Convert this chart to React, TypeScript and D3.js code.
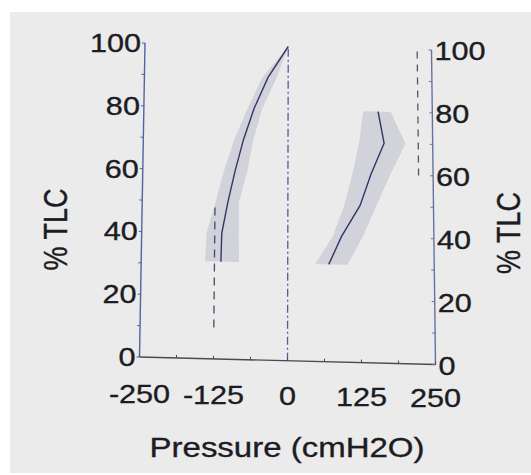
import React from "react";
import * as d3 from "d3";

// ---- data ----
const xTicksMajor = [-250, -125, 0, 125, 250];
const xTicksMinor = [-250, -187.5, -125, -62.5, 0, 62.5, 125, 187.5, 250];
const yTicksMajor = [0, 20, 40, 60, 80, 100];
const yTicksMinor = [0, 10, 20, 30, 40, 50, 60, 70, 80, 90, 100];

// expiratory (negative pressure) curve
const expY = [31, 40, 50, 60, 70, 80, 90, 100];
const expMean = [-114, -113, -103, -91, -77, -59, -35, 0];
const expLo = [-141, -139, -124, -110, -93, -70, -45, 0];
const expHi = [-83, -84, -84, -70, -60, -45, -20, 0];

// inspiratory (positive pressure) curve
const inspY = [31, 40, 50, 60, 70, 80];
const inspMean = [70, 92, 124, 143, 166, 156];
const inspLo = [47, 77, 97, 111, 123, 130];
const inspHi = [102, 128, 152, 176, 203, 178];

// reference dashed lines: [x, yFrom, yTo]
const refLeft = [-125, 10, 50];
const refRight = [225, 60, 100];

const W = 531;
const H = 475;
const STRETCH = 1.2;

export default function App() {
  const xs = d3.scaleLinear().domain([-250, 250]).range([0, 1]);
  const ys = d3.scaleLinear().domain([0, 100]).range([1, 0]);
  // photographed plot frame corners (slight keystone)
  const TL = [145, 43];
  const TR = [431.5, 50];
  const BL = [139.5, 357];
  const BR = [435.5, 364.5];
  const P = (x: number, y: number): [number, number] => {
    const u = xs(x);
    const v = ys(y);
    const tx = TL[0] + (TR[0] - TL[0]) * u;
    const ty = TL[1] + (TR[1] - TL[1]) * u;
    const bx = BL[0] + (BR[0] - BL[0]) * u;
    const by = BL[1] + (BR[1] - BL[1]) * u;
    return [tx + (bx - tx) * v, ty + (by - ty) * v];
  };
  const line = d3
    .line<[number, number]>()
    .x((d) => P(d[0], d[1])[0])
    .y((d) => P(d[0], d[1])[1]);

  const bandPath = (ysArr: number[], lo: number[], hi: number[]) => {
    const pts: [number, number][] = [];
    ysArr.forEach((y, i) => pts.push([lo[i], y]));
    for (let i = ysArr.length - 1; i >= 0; i--) pts.push([hi[i], ysArr[i]]);
    return line(pts) + "Z";
  };
  const meanPath = (ysArr: number[], m: number[]) =>
    line(ysArr.map((y, i) => [m[i], y] as [number, number]));

  const font = "'Liberation Sans', Arial, Helvetica, sans-serif";
  const txtColor = "#1c1c22";
  const axisBlue = "#5563a3";
  const textProps = {
    fontFamily: font,
    fill: txtColor,
    stroke: txtColor,
    strokeWidth: 0.35,
  };

  return (
    <svg
      width={W}
      height={H}
      style={{ position: "absolute", left: 0, top: 0, display: "block" }}
    >
      <rect x={0} y={0} width={W} height={H} fill="#ffffff" />
      <rect x={10} y={12} width={W - 10} height={H - 14} fill="#ebebeb" />

      {/* bands */}
      <path d={bandPath(expY, expLo, expHi)} fill="#d2d2da" />
      <path d={bandPath(inspY, inspLo, inspHi)} fill="#d2d2da" />

      {/* zero line */}
      <path
        d={line([
          [0, 0],
          [0, 100],
        ])!}
        stroke="#4e5c9c"
        strokeWidth={1.3}
        strokeDasharray="8,3,2,3"
        fill="none"
      />
      {/* reference dashed lines */}
      <path
        d={line([
          [refLeft[0], refLeft[1]],
          [refLeft[0], refLeft[2]],
        ])!}
        stroke="#464a72"
        strokeWidth={1.3}
        strokeDasharray="8,6"
        fill="none"
      />
      <path
        d={line([
          [refRight[0], refRight[1]],
          [refRight[0], refRight[2]],
        ])!}
        stroke="#55555f"
        strokeWidth={1.3}
        strokeDasharray="7,6"
        fill="none"
      />

      {/* mean curves */}
      <path
        d={meanPath(expY, expMean)!}
        stroke="#34346a"
        strokeWidth={1.4}
        fill="none"
      />
      <path
        d={meanPath(inspY, inspMean)!}
        stroke="#34346a"
        strokeWidth={1.4}
        fill="none"
      />

      {/* axes */}
      <path
        d={line([
          [-250, 0],
          [-250, 100],
        ])!}
        stroke={axisBlue}
        strokeWidth={1.4}
        fill="none"
      />
      <path
        d={line([
          [250, 0],
          [250, 100],
        ])!}
        stroke="#6672a6"
        strokeWidth={1.4}
        fill="none"
      />
      <path
        d={line([
          [-250, 0],
          [250, 0],
        ])!}
        stroke="#4a4a55"
        strokeWidth={1.4}
        fill="none"
      />

      {/* ticks */}
      {yTicksMinor.map((v) => {
        const [lx, ly] = P(-250, v);
        const [rx, ry] = P(250, v);
        return (
          <g key={"yt" + v}>
            <line x1={lx} y1={ly} x2={lx - 3} y2={ly} stroke={axisBlue} strokeWidth={1} />
            <line x1={rx} y1={ry} x2={rx - 3} y2={ry} stroke="#6672a6" strokeWidth={1} />
          </g>
        );
      })}
      {xTicksMinor.map((v) => {
        const [x, y] = P(v, 0);
        return (
          <line key={"xt" + v} x1={x} y1={y} x2={x} y2={y - 3} stroke="#4a4a55" strokeWidth={1} />
        );
      })}

      {/* y labels left */}
      {yTicksMajor.map((v) => {
        const [x, y] = P(-250, v);
        return (
          <g key={"yl" + v} transform={`translate(${x - 4},${y + 9}) scale(${STRETCH},1)`}>
            <text textAnchor="end" fontSize={25.5} {...textProps}>
              {v}
            </text>
          </g>
        );
      })}
      {/* y labels right */}
      {yTicksMajor.map((v) => {
        const [x, y] = P(250, v);
        return (
          <g key={"yr" + v} transform={`translate(${x + 3},${y + 10}) scale(${STRETCH},1)`}>
            <text textAnchor="start" fontSize={25.5} {...textProps}>
              {v}
            </text>
          </g>
        );
      })}
      {/* x labels */}
      {xTicksMajor.map((v) => {
        const [x, y] = P(v, 0);
        const u = xs(v);
        return (
          <g key={"xl" + v} transform={`translate(${x},${y + 46 - 4 * u}) scale(${STRETCH},1)`}>
            <text textAnchor="middle" fontSize={25.5} {...textProps}>
              {v}
            </text>
          </g>
        );
      })}

      {/* titles */}
      <g transform={`translate(287,457) scale(${STRETCH},1)`}>
        <text textAnchor="middle" fontSize={27.5} {...textProps}>
          Pressure (cmH2O)
        </text>
      </g>
      <g transform={`translate(67,229.5) scale(${STRETCH},1) rotate(-90)`}>
        <text textAnchor="middle" fontSize={27} {...textProps}>
          % TLC
        </text>
      </g>
      <g transform={`translate(520,233) scale(${STRETCH},1) rotate(-90)`}>
        <text textAnchor="middle" fontSize={27} {...textProps}>
          % TLC
        </text>
      </g>
    </svg>
  );
}
